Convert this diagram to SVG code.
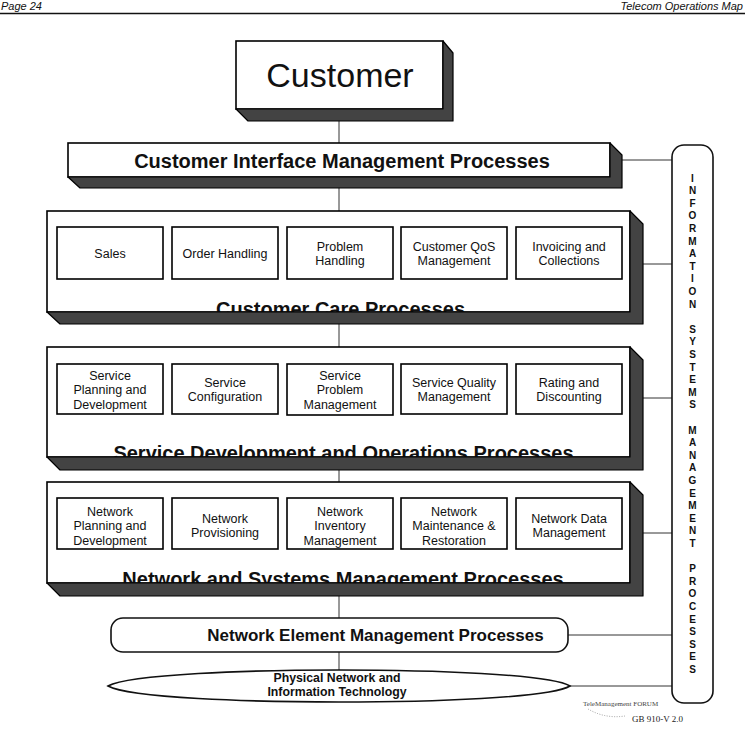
<svg xmlns="http://www.w3.org/2000/svg" width="747" height="730" viewBox="0 0 747 730">
<style>
.face{fill:#fff;stroke:#000;stroke-width:1.6}
.shd{fill:#434343;stroke:#000;stroke-width:1.2;stroke-linejoin:round}
.sub{fill:#fff;stroke:#000;stroke-width:1.6}
.st{font-family:"Liberation Sans",Arial,sans-serif;font-size:12.5px;fill:#111;text-anchor:middle}
.ttl{font-family:"Liberation Sans",Arial,sans-serif;font-size:20px;font-weight:bold;fill:#111;text-anchor:middle}
.ln{stroke:#333;stroke-width:1;fill:none}
.is{font-family:"Liberation Sans",Arial,sans-serif;font-size:10px;font-weight:bold;fill:#111;text-anchor:middle}
.hdr{font-family:"Liberation Sans",Arial,sans-serif;font-size:11px;font-style:italic;fill:#111}
</style>
<rect width="747" height="730" fill="#fff"/>

<g id="header">
<text class="hdr" x="1" y="10">Page 24</text>
<text class="hdr" x="743" y="10" text-anchor="end">Telecom Operations Map</text>
<line x1="0" y1="13.5" x2="745" y2="13.5" stroke="#111" stroke-width="1.6"/>
</g>

<g id="connectors">
<line class="ln" x1="339" y1="121" x2="339" y2="143"/>
<line class="ln" x1="339" y1="188" x2="339" y2="211"/>
<line class="ln" x1="339" y1="324" x2="339" y2="347"/>
<line class="ln" x1="339" y1="470" x2="339" y2="482"/>
<line class="ln" x1="339" y1="596" x2="339" y2="618"/>
<line class="ln" x1="339" y1="652" x2="339" y2="670"/>
<line class="ln" x1="622" y1="160" x2="672" y2="160"/>
<line class="ln" x1="643" y1="264" x2="672" y2="264"/>
<line class="ln" x1="643" y1="398" x2="672" y2="398"/>
<line class="ln" x1="643" y1="533" x2="672" y2="533"/>
<line class="ln" x1="568" y1="635" x2="672" y2="635"/>
<line class="ln" x1="570" y1="686" x2="672" y2="686"/>
</g>

<g id="customer">
<rect class="face" x="236" y="41" width="207" height="68"/>
<polygon class="shd" points="236,109 443,109 443,41 453,53 453,121 248,121"/>
<text x="340" y="87" font-family="Liberation Sans,Arial,sans-serif" font-size="34" fill="#111" text-anchor="middle">Customer</text>
</g>

<g id="cim">
<rect class="face" x="68" y="143" width="542" height="34"/>
<polygon class="shd" points="68,177 610,177 610,143 622,155 622,188 80,188"/>
<text class="ttl" x="342" y="168">Customer Interface Management Processes</text>
</g>

<g id="customer-care">
<rect class="face" x="47" y="211" width="583" height="101"/>
<text class="ttl" x="340.5" y="315.5">Customer Care Processes</text>
<polygon class="shd" points="47,312 630,312 630,211 643,224 643,324 60,324"/>
<g id="sales"><rect class="sub" x="57" y="227" width="106" height="52"/><text class="st" x="110" y="257.5">Sales</text></g>
<g id="order-handling"><rect class="sub" x="172" y="227" width="106" height="52"/><text class="st" x="225" y="257.5">Order Handling</text></g>
<g id="problem-handling"><rect class="sub" x="287" y="227" width="106" height="52"/><text class="st" x="340" y="250.5">Problem</text><text class="st" x="340" y="265">Handling</text></g>
<g id="customer-qos"><rect class="sub" x="401" y="227" width="106" height="52"/><text class="st" x="454" y="250.5">Customer QoS</text><text class="st" x="454" y="265">Management</text></g>
<g id="invoicing"><rect class="sub" x="516" y="227" width="106" height="52"/><text class="st" x="569" y="250.5">Invoicing and</text><text class="st" x="569" y="265">Collections</text></g>
</g>

<g id="service">
<rect class="face" x="47" y="347" width="583" height="110"/>
<text class="ttl" x="343.5" y="460">Service Development and Operations Processes</text>
<polygon class="shd" points="47,457 630,457 630,347 643,360 643,470 60,470"/>
<g id="service-planning"><rect class="sub" x="57" y="364" width="106" height="50"/><text class="st" x="110" y="379.5">Service</text><text class="st" x="110" y="394">Planning and</text><text class="st" x="110" y="408.5">Development</text></g>
<g id="service-configuration"><rect class="sub" x="172" y="364" width="106" height="50"/><text class="st" x="225" y="386.5">Service</text><text class="st" x="225" y="401">Configuration</text></g>
<g id="service-problem"><rect class="sub" x="287" y="364" width="106" height="51"/><text class="st" x="340" y="379.5">Service</text><text class="st" x="340" y="394">Problem</text><text class="st" x="340" y="408.5">Management</text></g>
<g id="service-quality"><rect class="sub" x="401" y="364" width="106" height="50"/><text class="st" x="454" y="386.5">Service Quality</text><text class="st" x="454" y="401">Management</text></g>
<g id="rating"><rect class="sub" x="516" y="364" width="106" height="50"/><text class="st" x="569" y="386.5">Rating and</text><text class="st" x="569" y="401">Discounting</text></g>
</g>

<g id="network">
<rect class="face" x="47" y="482" width="583" height="101"/>
<text class="ttl" x="343" y="586">Network and Systems Management Processes</text>
<polygon class="shd" points="47,583 630,583 630,482 643,495 643,596 60,596"/>
<g id="network-planning"><rect class="sub" x="57" y="498" width="106" height="51"/><text class="st" x="110" y="515.5">Network</text><text class="st" x="110" y="530">Planning and</text><text class="st" x="110" y="544.5">Development</text></g>
<g id="network-provisioning"><rect class="sub" x="172" y="498" width="106" height="51"/><text class="st" x="225" y="522.5">Network</text><text class="st" x="225" y="537">Provisioning</text></g>
<g id="network-inventory"><rect class="sub" x="287" y="498" width="106" height="51"/><text class="st" x="340" y="515.5">Network</text><text class="st" x="340" y="530">Inventory</text><text class="st" x="340" y="544.5">Management</text></g>
<g id="network-maintenance"><rect class="sub" x="401" y="498" width="106" height="51"/><text class="st" x="454" y="515.5">Network</text><text class="st" x="454" y="530">Maintenance &amp;</text><text class="st" x="454" y="544.5">Restoration</text></g>
<g id="network-data"><rect class="sub" x="516" y="498" width="106" height="51"/><text class="st" x="569" y="522.5">Network Data</text><text class="st" x="569" y="537">Management</text></g>
</g>

<g id="nem">
<rect x="111" y="618" width="457" height="34" rx="12" fill="#fff" stroke="#111" stroke-width="1.6"/>
<text x="375.5" y="641" font-family="Liberation Sans,Arial,sans-serif" font-size="17" font-weight="bold" fill="#111" text-anchor="middle">Network Element Management Processes</text>
</g>

<g id="physical">
<path d="M108,686 C130,674 250,670 339,670 C430,670 550,674 570,686 C550,698 430,702 339,702 C250,702 130,698 108,686 Z" fill="#fff" stroke="#111" stroke-width="1.6"/>
<text x="337" y="682" font-family="Liberation Sans,Arial,sans-serif" font-size="12.3" font-weight="bold" fill="#111" text-anchor="middle">Physical Network and</text>
<text x="337" y="696" font-family="Liberation Sans,Arial,sans-serif" font-size="12.3" font-weight="bold" fill="#111" text-anchor="middle">Information Technology</text>
</g>

<g id="ismp">
<rect x="672" y="145" width="41" height="558" rx="12" fill="#fff" stroke="#111" stroke-width="1.6"/>
<text class="is" x="692.5" y="181.6">I</text>
<text class="is" x="692.5" y="194.2">N</text>
<text class="is" x="692.5" y="206.8">F</text>
<text class="is" x="692.5" y="219.4">O</text>
<text class="is" x="692.5" y="232">R</text>
<text class="is" x="692.5" y="244.6">M</text>
<text class="is" x="692.5" y="257.2">A</text>
<text class="is" x="692.5" y="269.8">T</text>
<text class="is" x="692.5" y="282.4">I</text>
<text class="is" x="692.5" y="295">O</text>
<text class="is" x="692.5" y="307.6">N</text>
<text class="is" x="692.5" y="332.8">S</text>
<text class="is" x="692.5" y="345.4">Y</text>
<text class="is" x="692.5" y="358">S</text>
<text class="is" x="692.5" y="370.6">T</text>
<text class="is" x="692.5" y="383.2">E</text>
<text class="is" x="692.5" y="395.8">M</text>
<text class="is" x="692.5" y="408.4">S</text>
<text class="is" x="692.5" y="433.6">M</text>
<text class="is" x="692.5" y="446.2">A</text>
<text class="is" x="692.5" y="458.8">N</text>
<text class="is" x="692.5" y="471.4">A</text>
<text class="is" x="692.5" y="484">G</text>
<text class="is" x="692.5" y="496.6">E</text>
<text class="is" x="692.5" y="509.2">M</text>
<text class="is" x="692.5" y="521.8">E</text>
<text class="is" x="692.5" y="534.4">N</text>
<text class="is" x="692.5" y="547">T</text>
<text class="is" x="692.5" y="572.2">P</text>
<text class="is" x="692.5" y="584.8">R</text>
<text class="is" x="692.5" y="597.4">O</text>
<text class="is" x="692.5" y="610">C</text>
<text class="is" x="692.5" y="622.6">E</text>
<text class="is" x="692.5" y="635.2">S</text>
<text class="is" x="692.5" y="647.8">S</text>
<text class="is" x="692.5" y="660.4">E</text>
<text class="is" x="692.5" y="673">S</text>
</g>

<g id="footer">
<text x="583" y="706" font-family="Liberation Serif,Times New Roman,serif" font-size="7" fill="#444">TeleManagement FORUM</text>
<path d="M588,709 Q605,719 625,716" fill="none" stroke="#888" stroke-width="0.8" stroke-dasharray="1,1.5"/>
<text x="632" y="722" font-family="Liberation Serif,Times New Roman,serif" font-size="9" fill="#222">GB 910-V 2.0</text>
</g>
</svg>
